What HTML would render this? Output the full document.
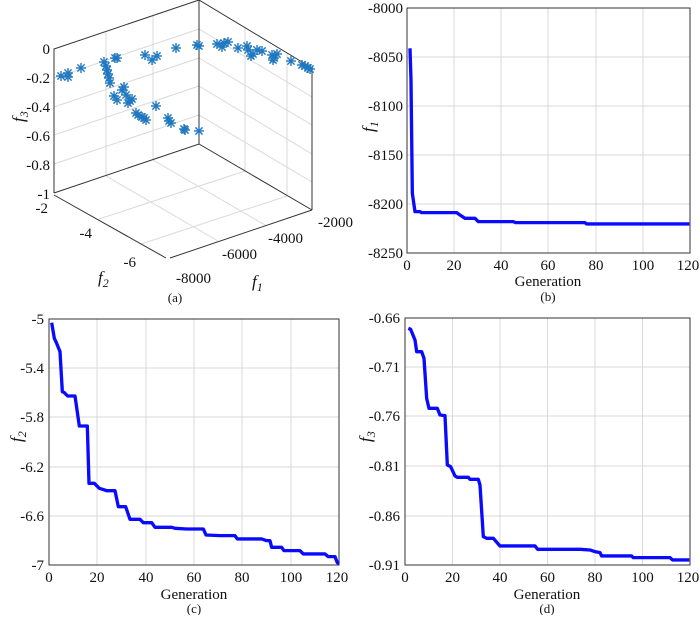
<!DOCTYPE html>
<html><head><meta charset="utf-8"><style>
html,body{margin:0;padding:0;background:#fff;}
svg text{font-family:"Liberation Serif",serif;font-size:15px;fill:#111;}
</style></head><body>
<svg width="700" height="615" viewBox="0 0 700 615" xmlns="http://www.w3.org/2000/svg">
<defs>
<g id="ast" stroke="#1f78c0" stroke-width="1.4"><line x1="-5" y1="0" x2="5" y2="0"/><line x1="0" y1="-5" x2="0" y2="5"/><line x1="-3.6" y1="-3.6" x2="3.6" y2="3.6"/><line x1="-3.6" y1="3.6" x2="3.6" y2="-3.6"/></g>
</defs>
<!-- (a) 3D -->
<g stroke="#d9d9d9" stroke-width="1" fill="none">
<line x1="54" y1="78" x2="199" y2="29"/><line x1="54" y1="107" x2="199" y2="58"/><line x1="54" y1="135" x2="199" y2="86"/><line x1="54" y1="164" x2="199" y2="115"/>
<line x1="199" y1="29" x2="312" y2="97"/><line x1="199" y1="58" x2="312" y2="125"/><line x1="199" y1="86" x2="312" y2="154"/><line x1="199" y1="115" x2="312" y2="182"/>
<line x1="106" y1="31" x2="106" y2="176"/><line x1="153" y1="16" x2="153" y2="160"/>
<line x1="245" y1="27" x2="245" y2="171"/><line x1="287" y1="53" x2="287" y2="196"/>
<line x1="106" y1="176" x2="218" y2="241"/><line x1="153" y1="160" x2="265" y2="225"/>
<line x1="245" y1="171" x2="99" y2="219"/><line x1="287" y1="196" x2="141" y2="244"/>
</g>
<g stroke="#333" stroke-width="1" fill="none">
<polyline points="54,193 54,49 199,0 312,68 312,210"/>
<line x1="199" y1="0" x2="199" y2="144"/>
<polyline points="54,193 199,144 312,210"/>
<line x1="54" y1="195" x2="166" y2="258"/><line x1="170" y1="258" x2="312" y2="210"/>
</g>
<g text-anchor="end">
<text x="50" y="54">0</text><text x="50" y="83">-0.2</text><text x="50" y="112">-0.4</text><text x="50" y="141">-0.6</text><text x="50" y="170">-0.8</text><text x="50" y="199">-1</text>
</g>
<text x="48" y="213" text-anchor="end">-2</text><text x="92" y="238" text-anchor="end">-4</text><text x="136" y="267" text-anchor="end">-6</text>
<text x="176" y="283">-8000</text><text x="222" y="259">-6000</text><text x="268" y="243">-4000</text><text x="318" y="227">-2000</text>
<text x="18" y="128" transform="rotate(-90 18 122)" font-style="italic" style="font-size:17px">f<tspan font-size="12" dy="4">3</tspan></text>
<text x="98" y="283" font-style="italic" style="font-size:17px">f<tspan font-size="12" dy="4">2</tspan></text>
<text x="252" y="287" font-style="italic" style="font-size:17px">f<tspan font-size="12" dy="4">1</tspan></text>
<text x="175" y="302" text-anchor="middle" style="font-size:13px">(a)</text>
<g>
<use href="#ast" x="61" y="76"/><use href="#ast" x="68" y="73"/><use href="#ast" x="68" y="77"/><use href="#ast" x="81" y="68"/>
<use href="#ast" x="104" y="62"/><use href="#ast" x="106" y="66"/><use href="#ast" x="107" y="70"/><use href="#ast" x="108" y="74"/><use href="#ast" x="109" y="78"/><use href="#ast" x="110" y="83"/>
<use href="#ast" x="115" y="58"/><use href="#ast" x="117" y="58"/><use href="#ast" x="114" y="96"/><use href="#ast" x="117" y="100"/><use href="#ast" x="122" y="90"/><use href="#ast" x="124" y="87"/>
<use href="#ast" x="126" y="95"/><use href="#ast" x="130" y="101"/><use href="#ast" x="132" y="99"/><use href="#ast" x="128" y="103"/><use href="#ast" x="136" y="113"/><use href="#ast" x="138" y="115"/>
<use href="#ast" x="142" y="117"/><use href="#ast" x="144" y="118"/><use href="#ast" x="146" y="120"/><use href="#ast" x="145" y="55"/><use href="#ast" x="152" y="60"/><use href="#ast" x="157" y="56"/>
<use href="#ast" x="156" y="106"/><use href="#ast" x="168" y="118"/><use href="#ast" x="169" y="121"/><use href="#ast" x="171" y="123"/><use href="#ast" x="176" y="48"/><use href="#ast" x="184" y="129"/><use href="#ast" x="185" y="130"/>
<use href="#ast" x="197" y="45"/><use href="#ast" x="199" y="46"/><use href="#ast" x="199" y="131"/><use href="#ast" x="217" y="44"/><use href="#ast" x="222" y="47"/><use href="#ast" x="224" y="43"/><use href="#ast" x="228" y="42"/>
<use href="#ast" x="238" y="48"/><use href="#ast" x="247" y="46"/><use href="#ast" x="248" y="50"/><use href="#ast" x="251" y="56"/><use href="#ast" x="253" y="54"/><use href="#ast" x="257" y="50"/><use href="#ast" x="262" y="51"/>
<use href="#ast" x="272" y="55"/><use href="#ast" x="274" y="58"/><use href="#ast" x="277" y="54"/><use href="#ast" x="273" y="60"/><use href="#ast" x="291" y="61"/><use href="#ast" x="302" y="65"/><use href="#ast" x="305" y="66"/><use href="#ast" x="308" y="68"/><use href="#ast" x="310" y="69"/>
</g>

<!-- (b) -->
<g stroke="#d9d9d9" stroke-width="1">
<line x1="454" y1="8" x2="454" y2="253"/><line x1="501" y1="8" x2="501" y2="253"/><line x1="548" y1="8" x2="548" y2="253"/><line x1="596" y1="8" x2="596" y2="253"/><line x1="643" y1="8" x2="643" y2="253"/>
<line x1="407" y1="57" x2="690" y2="57"/><line x1="407" y1="106" x2="690" y2="106"/><line x1="407" y1="155" x2="690" y2="155"/><line x1="407" y1="204" x2="690" y2="204"/>
</g>
<rect x="407" y="8" width="283" height="245" fill="none" stroke="#333" stroke-width="1"/>
<polyline transform="translate(350,0) scale(0.3333)" fill="none" stroke="#0a0aff" stroke-width="10" stroke-linejoin="round" points="180,145 183,240 187,580 195,635 210,635 215,638 320,638 330,645 345,655 375,655 385,665 490,665 497,668 705,668 710,672 1018,672"/>
<g text-anchor="end"><text x="403" y="13">-8000</text><text x="403" y="62">-8050</text><text x="403" y="111">-8100</text><text x="403" y="160">-8150</text><text x="403" y="209">-8200</text><text x="403" y="258">-8250</text></g>
<g text-anchor="middle"><text x="407" y="270">0</text><text x="454" y="270">20</text><text x="501" y="270">40</text><text x="548" y="270">60</text><text x="596" y="270">80</text><text x="643" y="270">100</text><text x="688" y="270">120</text>
<text x="548" y="286">Generation</text><text x="548" y="301" style="font-size:13px">(b)</text></g>
<text x="368" y="138" transform="rotate(-90 368 132)" font-style="italic" style="font-size:17px">f<tspan font-size="12" dy="4">1</tspan></text>

<!-- (c) -->
<g stroke="#d9d9d9" stroke-width="1">
<line x1="97" y1="319" x2="97" y2="565"/><line x1="146" y1="319" x2="146" y2="565"/><line x1="194" y1="319" x2="194" y2="565"/><line x1="242" y1="319" x2="242" y2="565"/><line x1="291" y1="319" x2="291" y2="565"/>
<line x1="49" y1="368" x2="339" y2="368"/><line x1="49" y1="417" x2="339" y2="417"/><line x1="49" y1="467" x2="339" y2="467"/><line x1="49" y1="516" x2="339" y2="516"/>
</g>
<rect x="49" y="319" width="290" height="246" fill="none" stroke="#333" stroke-width="1"/>
<polyline transform="translate(0,320) scale(0.3333)" fill="none" stroke="#0a0aff" stroke-width="10" stroke-linejoin="round" points="155,8 163,55 170,70 180,95 187,215 193,218 203,228 225,228 238,318 262,318 267,490 283,490 298,505 320,512 345,512 355,560 377,560 390,598 420,598 430,608 455,608 465,622 515,622 525,625 560,627 610,627 618,645 660,647 705,647 712,657 785,657 800,662 810,662 815,682 845,682 852,692 900,692 910,702 975,702 985,710 1005,710 1012,728 1018,730"/>
<g text-anchor="end"><text x="44" y="324">-5</text><text x="44" y="373">-5.4</text><text x="44" y="422">-5.8</text><text x="44" y="472">-6.2</text><text x="44" y="521">-6.6</text><text x="44" y="570">-7</text></g>
<g text-anchor="middle"><text x="49" y="582">0</text><text x="97" y="582">20</text><text x="146" y="582">40</text><text x="194" y="582">60</text><text x="242" y="582">80</text><text x="291" y="582">100</text><text x="337" y="582">120</text>
<text x="194" y="599">Generation</text><text x="194" y="613" style="font-size:13px">(c)</text></g>
<text x="16" y="448" transform="rotate(-90 16 442)" font-style="italic" style="font-size:17px">f<tspan font-size="12" dy="4">2</tspan></text>

<!-- (d) -->
<g stroke="#d9d9d9" stroke-width="1">
<line x1="452.5" y1="318" x2="452.5" y2="565"/><line x1="500" y1="318" x2="500" y2="565"/><line x1="547.5" y1="318" x2="547.5" y2="565"/><line x1="595" y1="318" x2="595" y2="565"/><line x1="642.5" y1="318" x2="642.5" y2="565"/>
<line x1="405" y1="367" x2="690" y2="367"/><line x1="405" y1="416" x2="690" y2="416"/><line x1="405" y1="466" x2="690" y2="466"/><line x1="405" y1="516" x2="690" y2="516"/>
</g>
<rect x="405" y="318" width="285" height="247" fill="none" stroke="#333" stroke-width="1"/>
<polyline transform="translate(350,320) scale(0.3333)" fill="none" stroke="#0a0aff" stroke-width="10" stroke-linejoin="round" points="175,25 182,28 195,60 200,95 215,95 222,115 230,235 237,265 262,265 270,285 285,287 292,435 302,440 315,468 322,472 355,472 360,478 385,478 390,495 400,650 410,655 430,655 450,678 555,678 563,688 690,688 720,690 735,695 750,698 755,708 845,708 850,713 960,713 968,720 1018,720"/>
<g text-anchor="end"><text x="400" y="323">-0.66</text><text x="400" y="372">-0.71</text><text x="400" y="421">-0.76</text><text x="400" y="471">-0.81</text><text x="400" y="521">-0.86</text><text x="400" y="570">-0.91</text></g>
<g text-anchor="middle"><text x="405" y="582">0</text><text x="452.5" y="582">20</text><text x="500" y="582">40</text><text x="547.5" y="582">60</text><text x="595" y="582">80</text><text x="642.5" y="582">100</text><text x="688" y="582">120</text>
<text x="547" y="599">Generation</text><text x="547" y="613" style="font-size:13px">(d)</text></g>
<text x="365" y="448" transform="rotate(-90 365 442)" font-style="italic" style="font-size:17px">f<tspan font-size="12" dy="4">3</tspan></text>
</svg>
</body></html>
